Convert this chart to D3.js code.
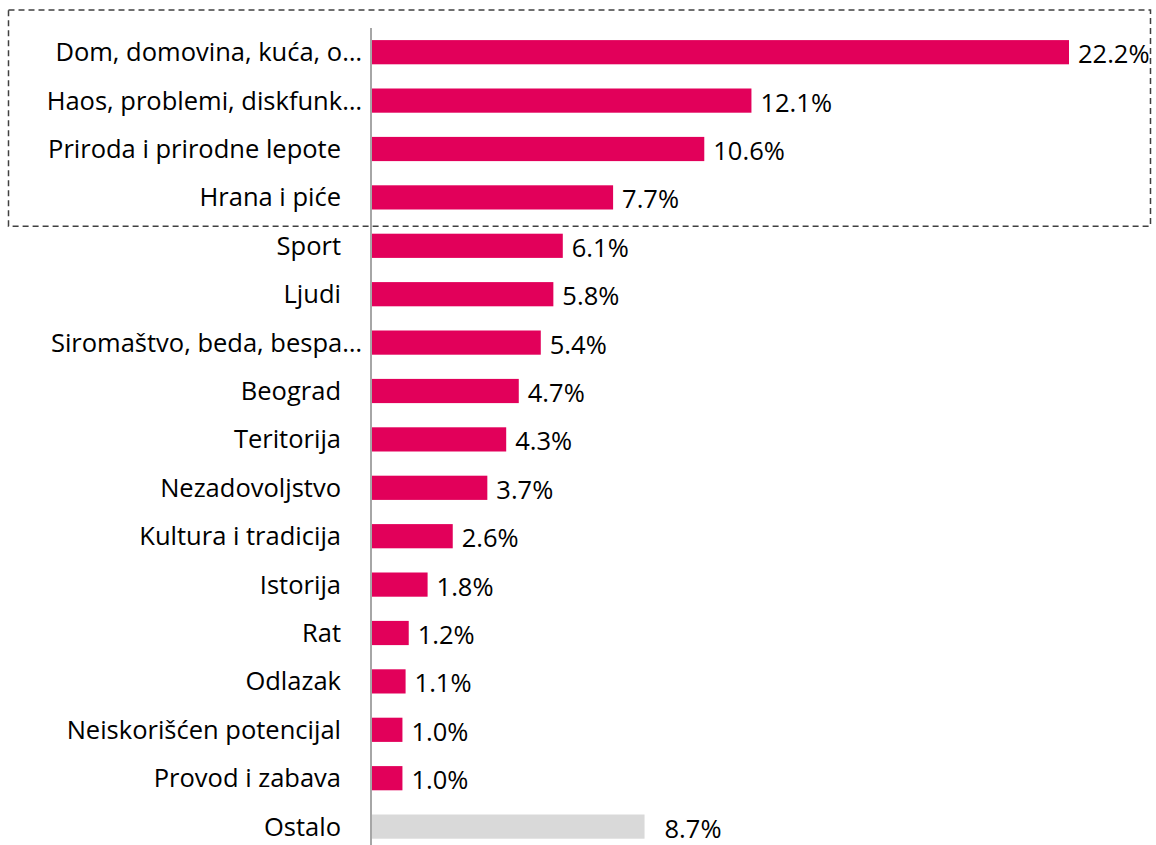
<!DOCTYPE html>
<html>
<head>
<meta charset="utf-8">
<script src="https://cdn.jsdelivr.net/npm/d3@7"></script>
<style>
  body { margin: 0; background: #fff; }
  text { font-family: "Open Sans", Lato, sans-serif; fill: #000; }
</style>
</head>
<body>
<div id="chart"></div>
<script>
// categories and values (%)
var categories = [
    'Dom, domovina, kuća, o…',
    'Haos, problemi, diskfunk…',
    'Priroda i prirodne lepote',
    'Hrana i piće',
    'Sport',
    'Ljudi',
    'Siromaštvo, beda, bespa…',
    'Beograd',
    'Teritorija',
    'Nezadovoljstvo',
    'Kultura i tradicija',
    'Istorija',
    'Rat',
    'Odlazak',
    'Neiskorišćen potencijal',
    'Provod i zabava',
    'Ostalo'
];
var values = [22.2, 12.1, 10.6, 7.7, 6.1, 5.8, 5.4, 4.7, 4.3, 3.7, 2.6, 1.8, 1.2, 1.1, 1.0, 1.0, 8.7];
var valueLabels = ['22.2%', '12.1%', '10.6%', '7.7%', '6.1%', '5.8%', '5.4%', '4.7%', '4.3%', '3.7%', '2.6%', '1.8%', '1.2%', '1.1%', '1.0%', '1.0%', '8.7%'];
var otherCategory = 'Ostalo';

var data = categories.map(function (c, i) {
    return { cat: c, value: values[i], label: valueLabels[i] };
});

// svg area
var svgWidth = 1156;
var svgHeight = 845;
var axisX = 371;

var svg = d3.select('#chart')
    .append('svg')
    .attr('width', svgWidth)
    .attr('height', svgHeight);

var x = d3.scaleLinear()
    .domain([0, 22.2])
    .range([axisX, 1069]);

var y = d3.scaleBand()
    .domain(categories)
    .range([28, 28 + 48.4 * categories.length])
    .paddingInner(0.5)
    .paddingOuter(0.25);

// bars
svg.selectAll('rect.bar')
    .data(data)
    .enter()
    .append('rect')
    .attr('class', 'bar')
    .attr('x', x(0))
    .attr('y', d => y(d.cat))
    .attr('width', d => x(d.value) - x(0))
    .attr('height', y.bandwidth())
    .attr('fill', d => d.cat === otherCategory ? '#d9d9d9' : '#e2005a');

// value labels
svg.selectAll('text.val')
    .data(data)
    .enter()
    .append('text')
    .attr('class', 'val')
    .attr('x', d => x(d.value) + (d.cat === otherCategory ? 20 : 9))
    .attr('y', d => y(d.cat) + y.bandwidth() / 2 + 2)
    .attr('dy', '0.35em')
    .style('font-size', '25.5px')
    .text(d => d.label);

// category labels
svg.selectAll('text.cat')
    .data(data)
    .enter()
    .append('text')
    .attr('class', 'cat')
    .attr('x', d => d.cat.endsWith('…') ? 362 : 341)
    .attr('y', d => y(d.cat) + y.bandwidth() / 2)
    .attr('dy', '0.35em')
    .attr('text-anchor', 'end')
    .style('font-size', '25.5px')
    .text(d => d.cat);

// axis line
svg.append('line')
    .attr('x1', axisX).attr('x2', axisX)
    .attr('y1', 28).attr('y2', svgHeight)
    .attr('stroke', '#a6a6a6')
    .attr('stroke-width', 2);

// dashed highlight box round the top four
var boxTop = y(categories[0]) - 30;
var boxBottom = y(categories[4]) - 7.5;
svg.append('rect')
    .attr('x', 8.5)
    .attr('y', boxTop)
    .attr('width', 1142)
    .attr('height', boxBottom - boxTop)
    .attr('fill', 'none')
    .attr('stroke', '#404040')
    .attr('stroke-width', 1.5)
    .attr('stroke-dasharray', '6,4');
</script>
</body>
</html>
